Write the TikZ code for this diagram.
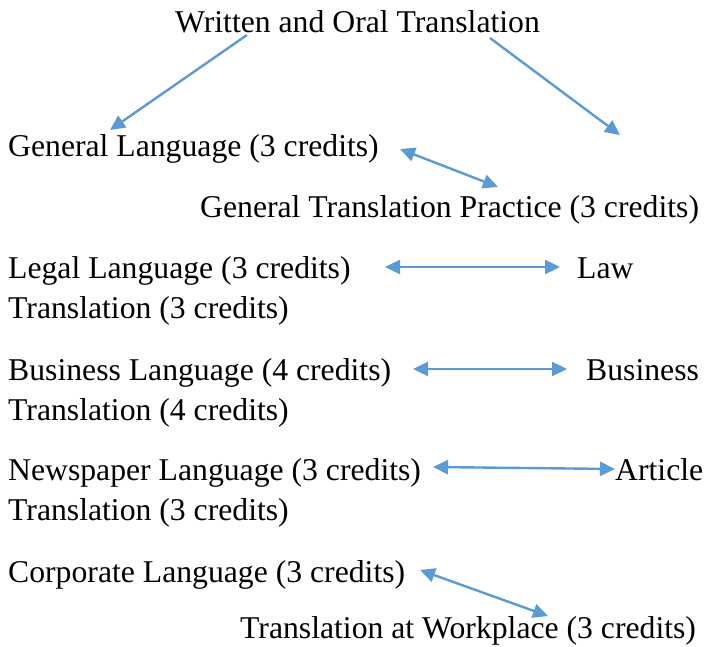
\documentclass[tikz,border=0pt]{standalone}
\usepackage{fontspec}
\setmainfont{Liberation Serif}
\usetikzlibrary{arrows.meta}
\definecolor{arrowblue}{HTML}{5B9BD5}
\tikzset{
  lbl/.style={anchor=base west, inner sep=0pt, font=\fontsize{31.7}{38}\selectfont},
  conn/.style={draw=arrowblue, line width=2.4pt, -{Triangle[length=15pt,width=14pt]}},
  dconn/.style={draw=arrowblue, line width=2.4pt, {Triangle[length=15pt,width=14pt]}-{Triangle[length=15pt,width=14pt]}}
}
\begin{document}
\begin{tikzpicture}[x=1pt,y=1pt]
\useasboundingbox (0,0) rectangle (707,-647);
\node[lbl] (top) at (175,-33) {Written and Oral Translation};
\node[lbl] (gl) at (8,-157) {General Language (3 credits)};
\node[lbl] (gtp) at (200,-218) {General Translation Practice (3 credits)};
\node[lbl] (ll) at (8,-278) {Legal Language (3 credits)};
\node[lbl] (law) at (577,-278) {Law};
\node[lbl] (lt) at (8,-318) {Translation (3 credits)};
\node[lbl] (bl) at (8,-380) {Business Language (4 credits)};
\node[lbl] (bus) at (586,-380) {Business};
\node[lbl] (bt) at (8,-420) {Translation (4 credits)};
\node[lbl] (nl) at (8,-480) {Newspaper Language (3 credits)};
\node[lbl] (art) at (615,-480) {Article};
\node[lbl] (nt) at (8,-520) {Translation (3 credits)};
\node[lbl] (cl) at (8,-582) {Corporate Language (3 credits)};
\node[lbl] (tw) at (240,-638) {Translation at Workplace (3 credits)};
% connector end points
\coordinate (a1s) at (247,-35);
\coordinate (a1e) at (110,-130);
\coordinate (a2s) at (490,-38);
\coordinate (a2e) at (620,-135);
\coordinate (g1) at (400,-149);
\coordinate (g2) at (498,-187);
\coordinate (l1) at (385,-267);
\coordinate (l2) at (560,-267);
\coordinate (b1) at (413,-369);
\coordinate (b2) at (567,-369);
\coordinate (n1) at (433,-467);
\coordinate (n2) at (615,-469);
\coordinate (c1) at (420,-570);
\coordinate (c2) at (548,-616);
\draw[conn] (a1s) -- (a1e);
\draw[conn] (a2s) -- (a2e);
\draw[dconn] (g1) -- (g2);
\draw[dconn] (l1) -- (l2);
\draw[dconn] (b1) -- (b2);
\draw[dconn] (n1) -- (n2);
\draw[dconn] (c1) -- (c2);
\end{tikzpicture}
\end{document}
